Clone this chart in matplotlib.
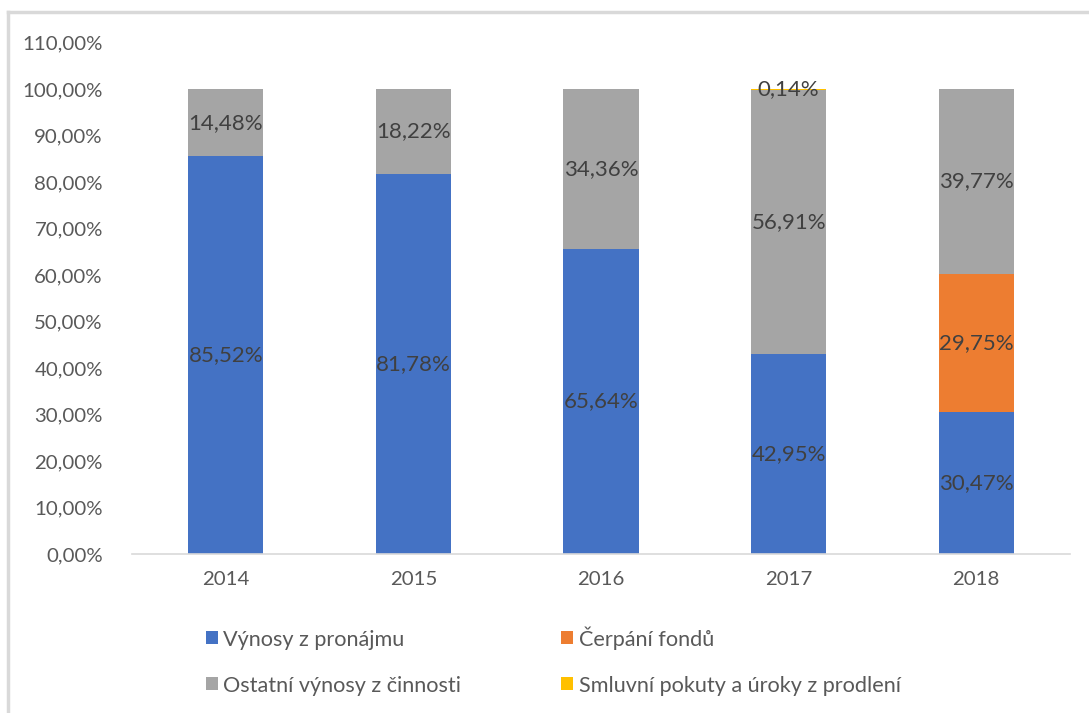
import matplotlib.pyplot as plt
from matplotlib.patches import Patch
from matplotlib.lines import Line2D
import numpy as np

plt.rcParams['font.family'] = ['Lato', 'DejaVu Sans']

# data (shares in %)
years = ['2014', '2015', '2016', '2017', '2018']
vynosy_pronajem = [85.52, 81.78, 65.64, 42.95, 30.47]
cerpani_fondu = [0, 0, 0, 0, 29.75]
ostatni_vynosy = [14.48, 18.22, 34.36, 56.91, 39.77]
smluvni_pokuty = [0, 0, 0, 0.14, 0]

series = [
    ('Výnosy z pronájmu', vynosy_pronajem, '#4472c4'),
    ('Čerpání fondů', cerpani_fondu, '#ed7d31'),
    ('Ostatní výnosy z činnosti', ostatni_vynosy, '#a5a5a5'),
    ('Smluvní pokuty a úroky z prodlení', smluvni_pokuty, '#ffc000'),
]

fig = plt.figure(figsize=(10.89, 7.13), dpi=100)
ax = fig.add_axes([0.1212, 0.2230, 0.8614, 0.7174])

x = np.arange(len(years))
bottom = np.zeros(len(years))
for name, vals, col in series:
    vals = np.array(vals, dtype=float)
    bars = ax.bar(x, vals, bottom=bottom, width=0.4, color=col, label=name, zorder=2)
    labels = [f'{v:.2f}%'.replace('.', ',') if v > 0 else '' for v in vals]
    ax.bar_label(bars, labels=labels, label_type='center', fontsize=16, color='#404040')
    bottom += vals

ax.set_xlim(-0.5, len(years) - 0.5)
ax.set_ylim(0, 110)
ax.set_yticks(np.arange(0, 111, 10))
ax.set_yticklabels([f'{v},00%' for v in range(0, 111, 10)])
ax.set_xticks(x)
ax.set_xticklabels(years)
ax.tick_params(axis='both', length=0, labelsize=14.7, colors='#595959')
ax.tick_params(axis='y', pad=21)
ax.tick_params(axis='x', pad=12)

for s in ['top', 'right', 'left']:
    ax.spines[s].set_visible(False)
ax.spines['bottom'].set_color('#d9d9d9')
ax.spines['bottom'].set_linewidth(1.2)

handles = [Patch(facecolor=c, label=n) for n, _, c in series]
order = [0, 2, 1, 3]
fig.legend([handles[i] for i in order], [series[i][0] for i in order],
           loc='upper left', bbox_to_anchor=(0.189, 0.122), ncol=2, frameon=False,
           fontsize=15.6, labelcolor='#595959', handlelength=0.56, handleheight=0.56,
           handletextpad=0.25, columnspacing=4.6, labelspacing=1.2, borderpad=0, borderaxespad=0)

# light frame around the chart area (top and left edges)
fig.add_artist(Line2D([0.0075, 0.0075], [0, 0.983], transform=fig.transFigure, color='#d9d9d9', lw=2.5))
fig.add_artist(Line2D([0.0075, 1.0], [0.983, 0.983], transform=fig.transFigure, color='#d9d9d9', lw=2.5))

fig.savefig('out.png', dpi=100)
